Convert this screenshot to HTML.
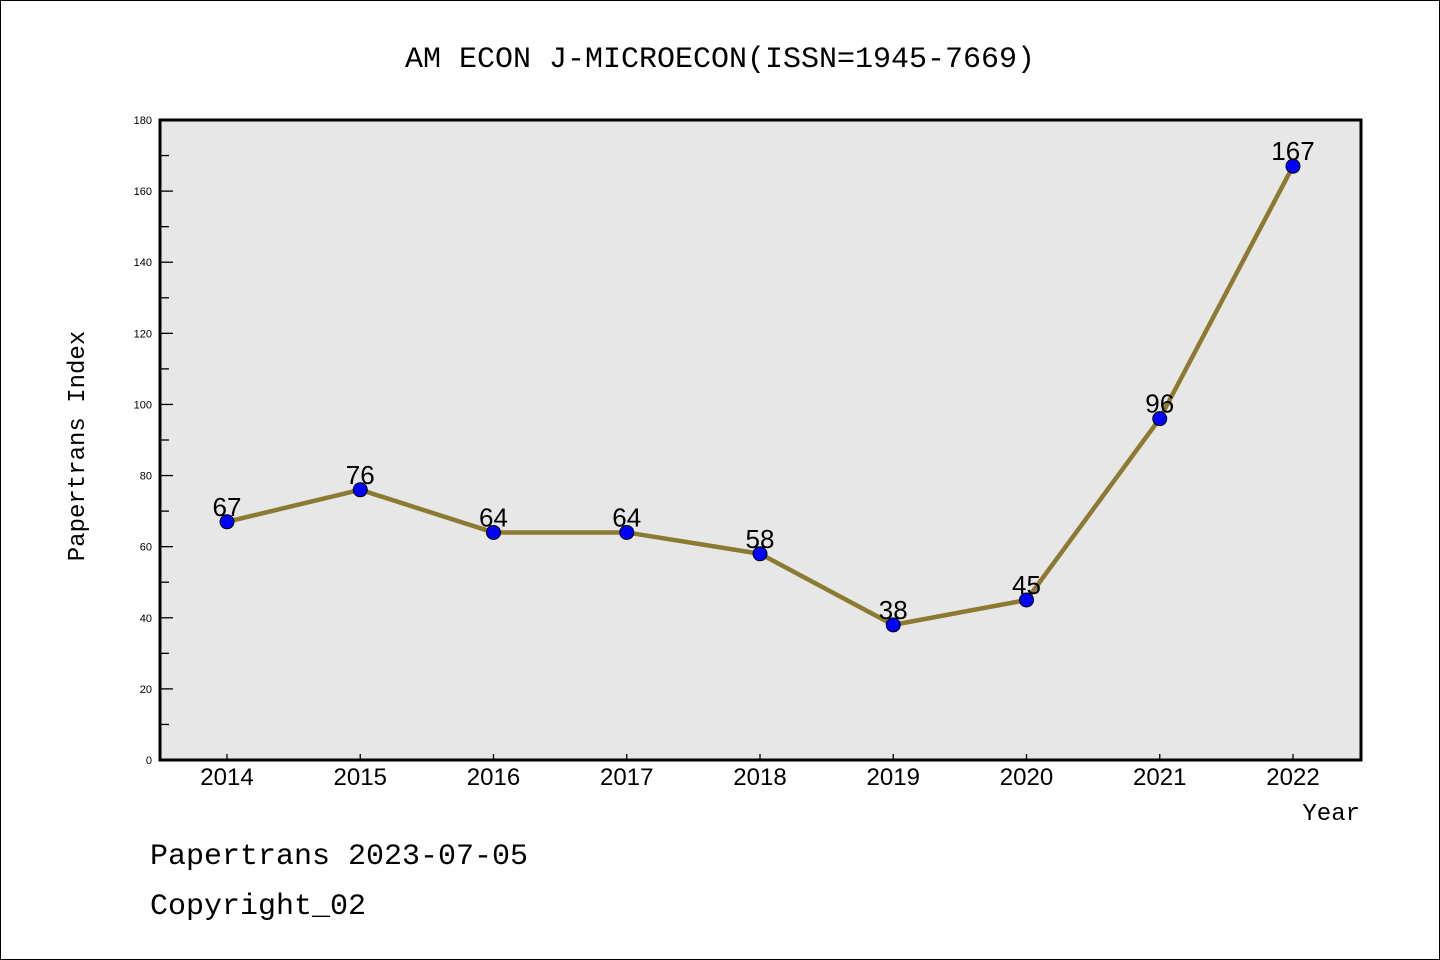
<!DOCTYPE html>
<html><head><meta charset="utf-8"><style>
html,body{margin:0;padding:0;background:#fff}
svg{display:block}
</style></head><body>
<svg width="1440" height="960" xmlns="http://www.w3.org/2000/svg">
<rect x="0.5" y="0.5" width="1439" height="959" fill="#fff" stroke="#000" stroke-width="1"/>
<text x="720" y="67" text-anchor="middle" font-family="Liberation Mono, monospace" font-size="30">AM ECON J-MICROECON(ISSN=1945-7669)</text>
<rect x="160" y="120" width="1201" height="640" fill="#e7e7e7"/>
<g id="yaxis"></g>
<g id="xaxis"></g>
<g id="series"></g>
<rect x="160" y="120" width="1201" height="640" fill="none" stroke="#000" stroke-width="3"/>
<text transform="translate(84,446) rotate(-90)" text-anchor="middle" font-family="Liberation Mono, monospace" font-size="24">Papertrans Index</text>
<text x="1360" y="820" text-anchor="end" font-family="Liberation Mono, monospace" font-size="24">Year</text>
<text x="150" y="864" font-family="Liberation Mono, monospace" font-size="30">Papertrans 2023-07-05</text>
<text x="150" y="914" font-family="Liberation Mono, monospace" font-size="30">Copyright_02</text>
</svg>
<script>
const years = [2014, 2015, 2016, 2017, 2018, 2019, 2020, 2021, 2022];
const values = [67, 76, 64, 64, 58, 38, 45, 96, 167];
const yTicks = [0, 20, 40, 60, 80, 100, 120, 140, 160, 180];
const NS = 'http://www.w3.org/2000/svg';
const x0 = 227, xStep = (1293 - 227) / 8;
function xPos(i){ return x0 + i * xStep; }
function yPos(v){ return 760 - v * (640 / 180); }
function mk(tag, attrs, parent){ const e = document.createElementNS(NS, tag); for (const k in attrs) e.setAttribute(k, attrs[k]); parent.appendChild(e); return e; }
const ya = document.getElementById('yaxis');
yTicks.forEach(v => {
  const y = yPos(v);
  const t = mk('line', {x1:160, x2:173, y1:y, y2:y, stroke:'#000', 'stroke-width':1.3}, ya);
  
  
  const l = mk('text', {x:152, y:y+4, 'text-anchor':'end', 'font-family':'Liberation Sans, sans-serif', 'font-size':11}, ya);
  l.textContent = v;
  
  
  if (v < 180) {
    const m = mk('line', {x1:160, x2:169, y1:yPos(v+10), y2:yPos(v+10), stroke:'#000', 'stroke-width':1.3}, ya);
    
    
  }
});
const xa = document.getElementById('xaxis');
years.forEach((yr, i) => {
  const x = xPos(i);
  const t = mk('line', {x1:x, x2:x, y1:754, y2:760, stroke:'#000', 'stroke-width':1.3}, xa);
  
  
  const l = mk('text', {x:x, y:785, 'text-anchor':'middle', 'font-family':'Liberation Sans, sans-serif', 'font-size':24}, xa);
  l.textContent = yr;
  
  
});
const s = document.getElementById('series');
const line = mk('polyline', {points: values.map((v,i)=>xPos(i)+','+yPos(v)).join(' '), fill:'none', stroke:'#8c7a32', 'stroke-width':4.5, 'stroke-linejoin':'round'}, s);


values.forEach((v, i) => {
  const c = mk('circle', {cx:xPos(i), cy:yPos(v), r:7, fill:'#0000ff', stroke:'#000', 'stroke-width':1}, s);
  
  
  const l = mk('text', {x:xPos(i), y:yPos(v)-6, 'text-anchor':'middle', 'font-family':'Liberation Sans, sans-serif', 'font-size':26}, s);
  l.textContent = v;
  
  
});
</script>
</body></html>
